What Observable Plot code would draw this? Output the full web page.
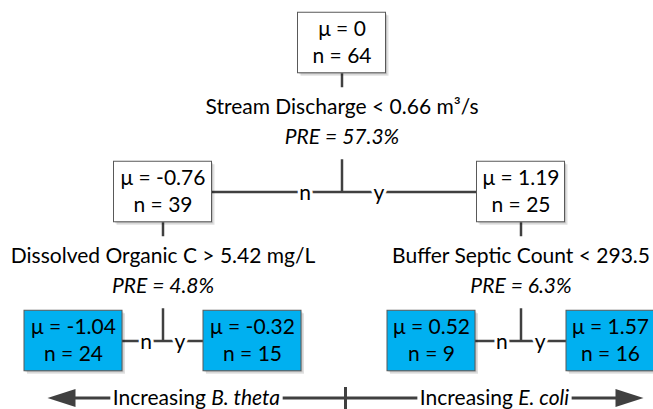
<!DOCTYPE html>
<html><head><meta charset="utf-8">
<script src="https://cdn.jsdelivr.net/npm/d3@7"></script>
<script src="https://cdn.jsdelivr.net/npm/@observablehq/plot@0.6"></script>
<style>
html,body{margin:0;padding:0;background:#fff;}
</style>
</head><body><div id="chart"></div>
<script>
// ---------- data ----------
const nodeIds    = ["root", "L", "R", "LL", "LR", "RL", "RR"];
const nodeParent = [null, "root", "root", "L", "L", "R", "R"];
const nodeMu     = ["0", "-0.76", "1.19", "-1.04", "-0.32", "0.52", "1.57"];
const nodeN      = [64, 39, 25, 24, 15, 9, 16];

const splitNodes  = ["root", "L", "R"];
const splitLabels = ["Stream Discharge < 0.66 m³/s", "Dissolved Organic C > 5.42 mg/L", "Buffer Septic Count < 293.5"];
const splitPRE    = ["57.3%", "4.8%", "6.3%"];

const branchLabels = ["n", "y"];
const directionPrefix = ["Increasing ", "Increasing "];
const directionTaxa   = ["B. theta", "E. coli"];

// ---------- layout ----------
const W = 653, H = 409;
const FONT = "Lato";
const FS = 21;
const INK = "#404040";
const BLUE = "#00B0F0";
const leafX0 = 73, leafStep = 179, rowY0 = 42.5, rowStep = 149, boxH = 60.5;
const arrowSpan = [47, 643], arrowY = 397.5, headLen = 28, headHalf = 9, textGap = 2.5;

const byId = new Map(nodeIds.map((id, i) => [id, {id, parent: nodeParent[i], mu: nodeMu[i], n: nodeN[i], children: []}]));
const nodes = [...byId.values()];
for (const d of nodes) if (d.parent) byId.get(d.parent).children.push(d);
const root = byId.get("root");
(function setDepth(d, k) { d.depth = k; d.children.forEach(c => setDepth(c, k + 1)); })(root, 0);
const leaves = [];
(function walk(d) { if (!d.children.length) leaves.push(d); else d.children.forEach(walk); })(root);
leaves.forEach((d, i) => d.x = leafX0 + i * leafStep);
(function place(d) { if (d.children.length) { d.children.forEach(place); d.x = d3.mean(d.children, c => c.x); } })(root);
for (const d of nodes) {
  d.leaf = !d.children.length;
  d.y = rowY0 + d.depth * rowStep;
  d.muText = "μ = " + d.mu;
  d.nText = "n = " + d.n;
  d.w = Math.max(88, 11 * d.muText.length - 1);
  d.top = d.y - boxH / 2; d.bottom = d.y + boxH / 2;
}

const splits = splitNodes.map((id, i) => {
  const d = byId.get(id);
  return {x: d.x, yLabel: d.bottom + 34.5, yPre: d.bottom + 64.5, label: splitLabels[i], pre: "PRE = " + splitPRE[i]};
});

const segments = [];
const branchTexts = [];
for (const d of nodes) {
  if (d.leaf) continue;
  const [a, b] = d.children;
  const cy = a.y;
  segments.push({x1: d.x, y1: d.bottom, x2: d.x, y2: d.bottom + 14});
  segments.push({x1: d.x, y1: d.bottom + 86, x2: d.x, y2: cy});
  segments.push({x1: a.x, y1: cy, x2: b.x, y2: cy});
  const gapL = d.x - (a.x + a.w / 2), gapR = (b.x - b.w / 2) - d.x;
  branchTexts.push({x: d.x - Math.min(37, gapL * 0.42), y: cy, text: branchLabels[0]});
  branchTexts.push({x: d.x + Math.min(37, gapR * 0.42), y: cy, text: branchLabels[1]});
}

// bottom direction arrow
const ctx = document.createElement("canvas").getContext("2d");
function tw(s, italic) { ctx.font = `${italic ? "italic " : ""}${FS}px ${FONT}`; return ctx.measureText(s).width; }
const tickX = (arrowSpan[0] + arrowSpan[1]) / 2;
const halves = [[arrowSpan[0], tickX], [tickX, arrowSpan[1]]];
const dirText = [];
const spans = [];
halves.forEach(([a, b], i) => {
  const w1 = tw(directionPrefix[i], false), w2 = tw(directionTaxa[i], true);
  const start = (a + b) / 2 - (w1 + w2) / 2;
  dirText.push({x: start, text: directionPrefix[i], italic: false});
  dirText.push({x: start + w1, text: directionTaxa[i], italic: true});
  spans.push([start - textGap, start + w1 + w2 + textGap]);
});
const shaft = [
  {x1: arrowSpan[0] + headLen - 1, y1: arrowY, x2: spans[0][0], y2: arrowY},
  {x1: spans[0][1], y1: arrowY, x2: spans[1][0], y2: arrowY},
  {x1: spans[1][1], y1: arrowY, x2: arrowSpan[1] - headLen + 1, y2: arrowY},
  {x1: tickX, y1: arrowY - 11, x2: tickX, y2: arrowY + 12}
];
const heads = [
  {id: "l", x: arrowSpan[0], y: arrowY}, {id: "l", x: arrowSpan[0] + headLen, y: arrowY - headHalf}, {id: "l", x: arrowSpan[0] + headLen, y: arrowY + headHalf},
  {id: "r", x: arrowSpan[1], y: arrowY}, {id: "r", x: arrowSpan[1] - headLen, y: arrowY - headHalf}, {id: "r", x: arrowSpan[1] - headLen, y: arrowY + headHalf}
];

// ---------- chart ----------
const common = {fontSize: FS, fill: "#000"};
const box = {x1: d => d.x - d.w / 2, x2: d => d.x + d.w / 2, y1: "top", y2: "bottom"};
const chart = Plot.plot({
  width: W, height: H,
  margin: 0,
  x: {domain: [0, W], range: [0, W], axis: null},
  y: {domain: [0, H], range: [0, H], axis: null},
  style: {fontFamily: FONT, background: "white"},
  marks: [
    Plot.link(segments, {x1: "x1", y1: "y1", x2: "x2", y2: "y2", stroke: INK, strokeWidth: 2.5}),
    Plot.text(branchTexts, {x: "x", y: "y", text: "text", dy: 1.5, ...common, stroke: "white", strokeWidth: 6, paintOrder: "stroke"}),
    // shadows
    Plot.rect(nodes, {...box, dx: 3, dy: 3, fill: "#000", fillOpacity: 0.12}),
    Plot.rect(nodes, {...box, dx: 1.5, dy: 1.5, fill: "#000", fillOpacity: 0.12}),
    Plot.rect(nodes, {...box, fill: d => d.leaf ? BLUE : "white", stroke: "#595959", strokeWidth: 1}),
    Plot.text(nodes, {x: "x", y: d => d.y - 13.5, text: "muText", ...common}),
    Plot.text(nodes, {x: "x", y: d => d.y + 13.5, text: "nText", ...common}),
    Plot.text(splits, {x: "x", y: "yLabel", text: "label", ...common}),
    Plot.text(splits, {x: "x", y: "yPre", text: "pre", ...common, fontStyle: "italic"}),
    Plot.link(shaft, {x1: "x1", y1: "y1", x2: "x2", y2: "y2", stroke: INK, strokeWidth: 3}),
    Plot.line(heads, {x: "x", y: "y", z: "id", fill: INK, stroke: "none"}),
    Plot.text(dirText.filter(d => !d.italic), {x: "x", y: arrowY, text: "text", textAnchor: "start", ...common}),
    Plot.text(dirText.filter(d => d.italic), {x: "x", y: arrowY, text: "text", textAnchor: "start", ...common, fontStyle: "italic"})
  ]
});
document.getElementById("chart").appendChild(chart);
</script>
</body></html>
